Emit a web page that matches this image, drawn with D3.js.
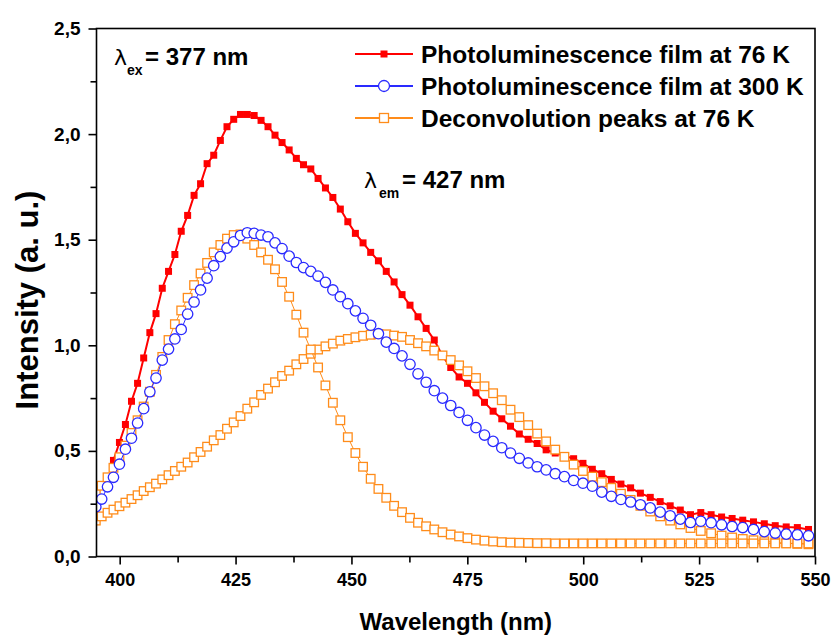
<!DOCTYPE html>
<html>
<head>
<meta charset="utf-8">
<script src="https://cdn.jsdelivr.net/npm/d3@7"></script>
<style>
  html, body { margin: 0; padding: 0; background: #fff; }
  svg { display: block; font-family: "Liberation Sans", Arial, sans-serif; }
</style>
</head>
<body>
<svg id="chart" width="834" height="637"></svg>
<script>
// Emission wavelengths (nm); the spectra were sampled on an even photon-energy step.
const wavelength = [
  394.85, 396.12, 397.38, 398.66, 399.95, 401.24, 402.55, 403.86, 405.18, 406.51,
  407.84, 409.19, 410.54, 411.91, 413.28, 414.66, 416.05, 417.45, 418.86, 420.29,
  421.72, 423.15, 424.60, 426.06, 427.53, 429.01, 430.50, 432.00, 433.51, 435.03,
  436.56, 438.11, 439.66, 441.23, 442.80, 444.39, 445.99, 447.60, 449.22, 450.85,
  452.50, 454.15, 455.82, 457.51, 459.20, 460.91, 462.63, 464.36, 466.11, 467.87,
  469.64, 471.42, 473.22, 475.03, 476.86, 478.70, 480.56, 482.43, 484.31, 486.21,
  488.13, 490.06, 492.00, 493.96, 495.94, 497.93, 499.94, 501.96, 504.00, 506.06,
  508.13, 510.22, 512.33, 514.46, 516.60, 518.76, 520.94, 523.14, 525.36, 527.59,
  529.85, 532.12, 534.41, 536.73, 539.06, 541.42, 543.79, 546.19, 548.60
];

// Photoluminescence of the film at 76 K (no points recorded below ~398 nm)
const pl76K = [
  null, null, null, 0.455, 0.54, 0.625, 0.735, 0.82, 0.94, 1.06,
  1.15, 1.27, 1.35, 1.43, 1.54, 1.615, 1.71, 1.765, 1.86, 1.90,
  1.97, 2.035, 2.07, 2.093, 2.093, 2.088, 2.065, 2.035, 1.995, 1.96,
  1.925, 1.885, 1.855, 1.835, 1.79, 1.745, 1.70, 1.645, 1.585, 1.53,
  1.485, 1.44, 1.40, 1.35, 1.30, 1.24, 1.19, 1.135, 1.08, 1.025,
  0.95, 0.895, 0.85, 0.82, 0.775, 0.73, 0.688, 0.652, 0.617, 0.58,
  0.555, 0.535, 0.505, 0.49, 0.477, 0.463, 0.441, 0.413, 0.392, 0.365,
  0.343, 0.325, 0.30, 0.28, 0.26, 0.24, 0.22, 0.198, 0.208, 0.198,
  0.187, 0.18, 0.172, 0.164, 0.155, 0.146, 0.14, 0.137, 0.128
];

// Photoluminescence of the film at 300 K
const pl300K = [
  0.235, 0.272, 0.33, 0.375, 0.437, 0.508, 0.56, 0.632, 0.70, 0.78,
  0.845, 0.93, 0.982, 1.03, 1.075, 1.148, 1.205, 1.262, 1.318, 1.377,
  1.42, 1.46, 1.49, 1.52, 1.533, 1.53, 1.522, 1.514, 1.485, 1.458,
  1.422, 1.392, 1.368, 1.35, 1.328, 1.298, 1.262, 1.23, 1.197, 1.163,
  1.128, 1.095, 1.055, 1.015, 0.985, 0.95, 0.91, 0.865, 0.825, 0.785,
  0.75, 0.715, 0.682, 0.645, 0.61, 0.575, 0.545, 0.515, 0.49, 0.465,
  0.443, 0.425, 0.41, 0.392, 0.378, 0.36, 0.347, 0.333, 0.305, 0.285,
  0.27, 0.258, 0.245, 0.23, 0.21, 0.193, 0.177, 0.161, 0.167, 0.16,
  0.15, 0.142, 0.137, 0.128, 0.118, 0.111, 0.106, 0.103, 0.098
];

// Deconvolution of the 76 K spectrum: narrow band near 426 nm
const peakBlue = [
  0.30, 0.335, 0.375, 0.42, 0.47, 0.525, 0.585, 0.645, 0.71, 0.78,
  0.86, 0.945, 1.025, 1.10, 1.165, 1.225, 1.285, 1.34, 1.39, 1.44,
  1.475, 1.505, 1.522, 1.525, 1.505, 1.475, 1.44, 1.405, 1.36, 1.30,
  1.23, 1.145, 1.06, 0.98, 0.895, 0.81, 0.728, 0.645, 0.565, 0.49,
  0.425, 0.368, 0.32, 0.278, 0.24, 0.21, 0.183, 0.16, 0.143, 0.128,
  0.115, 0.104, 0.095, 0.087, 0.08, 0.075, 0.071, 0.068, 0.066, 0.065,
  0.064, 0.063, 0.063, 0.062, 0.062, 0.062, 0.062, 0.062, 0.062, 0.062,
  0.062, 0.062, 0.062, 0.062, 0.062, 0.062, 0.062, 0.062, 0.062, 0.062,
  0.062, 0.062, 0.062, 0.062, 0.062, 0.062, 0.062, 0.062, 0.062
];

// Deconvolution of the 76 K spectrum: broad band near 456 nm
const peakGreen = [
  0.17, 0.19, 0.207, 0.222, 0.238, 0.255, 0.272, 0.29, 0.31, 0.328,
  0.345, 0.365, 0.385, 0.405, 0.425, 0.445, 0.47, 0.495, 0.52, 0.55,
  0.575, 0.605, 0.635, 0.665, 0.70, 0.73, 0.765, 0.795, 0.825, 0.855,
  0.88, 0.91, 0.935, 0.96, 0.98, 0.995, 1.008, 1.022, 1.03, 1.038,
  1.045, 1.05, 1.053, 1.052, 1.046, 1.04, 1.025, 1.01, 0.995, 0.975,
  0.952, 0.93, 0.905, 0.877, 0.845, 0.806, 0.773, 0.74, 0.695, 0.66,
  0.622, 0.582, 0.545, 0.506, 0.472, 0.435, 0.405, 0.378, 0.352, 0.325,
  0.297, 0.268, 0.24, 0.213, 0.19, 0.17, 0.152, 0.135, 0.121, 0.11,
  0.099, 0.09, 0.083, 0.077, 0.072, 0.067, 0.063, 0.06, 0.058
];

const xMajorTicks = [400, 425, 450, 475, 500, 525, 550];
const xMinorTicks = [412.5, 437.5, 462.5, 487.5, 512.5, 537.5];
const yMajorTicks = [0, 0.5, 1.0, 1.5, 2.0, 2.5];
const yMinorTicks = [0.25, 0.75, 1.25, 1.75, 2.25];

const legendLabels = [
  "Photoluminescence film at 76 K",
  "Photoluminescence film at 300 K",
  "Deconvolution peaks at 76 K"
];

const RED = "#ff0000", BLUE = "#2a2aff", ORANGE = "#ff8c1a";

const svg = d3.select("#chart");
svg.append("rect").attr("width", 834).attr("height", 637).attr("fill", "#fff");

const x = d3.scaleLinear().domain([395, 550]).range([96.5, 815]);
const y = d3.scaleLinear().domain([0, 2.5]).range([556.5, 28.5]);

const commaFmt = d3.formatLocale({ decimal: ",", thousands: ".", grouping: [3], currency: ["", ""] }).format(".1f");

// Axes (major ticks with labels, minor ticks without)
const gx = svg.append("g").attr("transform", `translate(0,${y(0)})`);
gx.call(d3.axisBottom(x).tickValues(xMajorTicks).tickSize(8).tickPadding(9).tickFormat(d3.format("d")));
const gxm = svg.append("g").attr("transform", `translate(0,${y(0)})`);
gxm.call(d3.axisBottom(x).tickValues(xMinorTicks).tickSize(6).tickFormat(""));
const gy = svg.append("g").attr("transform", `translate(${x(395)},0)`);
gy.call(d3.axisLeft(y).tickValues(yMajorTicks).tickSize(8).tickPadding(8).tickFormat(commaFmt));
const gym = svg.append("g").attr("transform", `translate(${x(395)},0)`);
gym.call(d3.axisLeft(y).tickValues(yMinorTicks).tickSize(6).tickFormat(""));

[gx, gxm, gy, gym].forEach(g => {
  g.select(".domain").remove();
  g.selectAll(".tick line").attr("stroke", "#000").attr("stroke-width", 1.6);
  g.selectAll(".tick text")
    .attr("fill", "#000")
    .style("font-family", "'Liberation Sans', Arial, sans-serif")
    .style("font-weight", "bold")
    .style("font-size", "18px");
});
gy.selectAll(".tick text").style("font-size", "19px");

// Plot area clip
svg.append("defs").append("clipPath").attr("id", "plotClip")
  .append("rect")
  .attr("x", x(395)).attr("y", y(2.5))
  .attr("width", x(550) - x(395)).attr("height", y(0) - y(2.5));

const plot = svg.append("g").attr("clip-path", "url(#plotClip)");

function pts(values) {
  return wavelength.map((w, i) => ({ w, v: values[i] })).filter(d => d.v != null);
}
const line = d3.line().x(d => x(d.w)).y(d => y(d.v));

// 76 K spectrum: red line with filled squares
const red = pts(pl76K);
plot.append("path").datum(red).attr("d", line)
  .attr("fill", "none").attr("stroke", RED).attr("stroke-width", 2);
plot.append("g").selectAll("rect").data(red).join("rect")
  .attr("x", d => x(d.w) - 3.5).attr("y", d => y(d.v) - 3.5)
  .attr("width", 7).attr("height", 7).attr("fill", RED);

// Deconvolution bands: thin orange line with open squares
[peakGreen, peakBlue].forEach(series => {
  const data = pts(series);
  plot.append("path").datum(data).attr("d", line)
    .attr("fill", "none").attr("stroke", ORANGE).attr("stroke-width", 1);
  plot.append("g").selectAll("rect").data(data).join("rect")
    .attr("x", d => x(d.w) - 4.3).attr("y", d => y(d.v) - 4.3)
    .attr("width", 8.6).attr("height", 8.6)
    .attr("fill", "#fff").attr("stroke", ORANGE).attr("stroke-width", 1.3);
});

// 300 K spectrum: blue line with open circles
const blue = pts(pl300K);
plot.append("path").datum(blue).attr("d", line)
  .attr("fill", "none").attr("stroke", BLUE).attr("stroke-width", 1);
plot.append("g").selectAll("circle").data(blue).join("circle")
  .attr("cx", d => x(d.w)).attr("cy", d => y(d.v)).attr("r", 5.2)
  .attr("fill", "#fff").attr("stroke", BLUE).attr("stroke-width", 1.3);

// Frame
svg.append("rect")
  .attr("x", x(395)).attr("y", y(2.5))
  .attr("width", x(550) - x(395)).attr("height", y(0) - y(2.5))
  .attr("fill", "none").attr("stroke", "#000").attr("stroke-width", 1.6);

// Legend
const legend = svg.append("g");
const legendRows = [
  { color: RED, kind: "filled" },
  { color: BLUE, kind: "circle" },
  { color: ORANGE, kind: "open" }
];
legendRows.forEach((row, i) => {
  const cy = 54 + i * 32;
  legend.append("line").attr("x1", 355).attr("x2", 413).attr("y1", cy).attr("y2", cy)
    .attr("stroke", row.color).attr("stroke-width", 2);
  if (row.kind === "filled") {
    legend.append("rect").attr("x", 384 - 3.5).attr("y", cy - 3.5).attr("width", 7).attr("height", 7).attr("fill", row.color);
  } else if (row.kind === "circle") {
    legend.append("circle").attr("cx", 384).attr("cy", cy).attr("r", 5.5)
      .attr("fill", "#fff").attr("stroke", row.color).attr("stroke-width", 1.3);
  } else {
    legend.append("rect").attr("x", 384 - 4.5).attr("y", cy - 4.5).attr("width", 9).attr("height", 9)
      .attr("fill", "#fff").attr("stroke", row.color).attr("stroke-width", 1.3);
  }
  legend.append("text").attr("x", 421).attr("y", cy).attr("dy", "0.36em")
    .style("font-size", "24.5px").style("font-weight", "bold").attr("fill", "#000")
    .text(legendLabels[i]);
});

// Wavelength annotations
function lambdaLabel(x0, base, sub, rest, subX, restX) {
  const g = svg.append("g");
  g.append("text").attr("x", x0).attr("y", base)
    .style("font-family", "'DejaVu Sans', sans-serif").style("font-size", "22px").text("λ");
  g.append("text").attr("x", subX).attr("y", base + 10)
    .style("font-size", "14px").style("font-weight", "bold").text(sub);
  g.append("text").attr("x", restX).attr("y", base)
    .style("font-size", "24px").style("font-weight", "bold").text(rest);
}
lambdaLabel(114, 65, "ex", "= 377 nm", 127, 145);
lambdaLabel(364, 188, "em", "= 427 nm", 379, 402);

// Axis titles
svg.append("text")
  .attr("transform", "translate(38,300) rotate(-90)")
  .attr("text-anchor", "middle")
  .style("font-size", "31px").style("font-weight", "bold")
  .text("Intensity (a. u.)");
svg.append("text")
  .attr("x", (x(395) + x(550)) / 2).attr("y", 630)
  .attr("text-anchor", "middle")
  .style("font-size", "24px").style("font-weight", "bold")
  .text("Wavelength (nm)");
</script>
</body>
</html>
